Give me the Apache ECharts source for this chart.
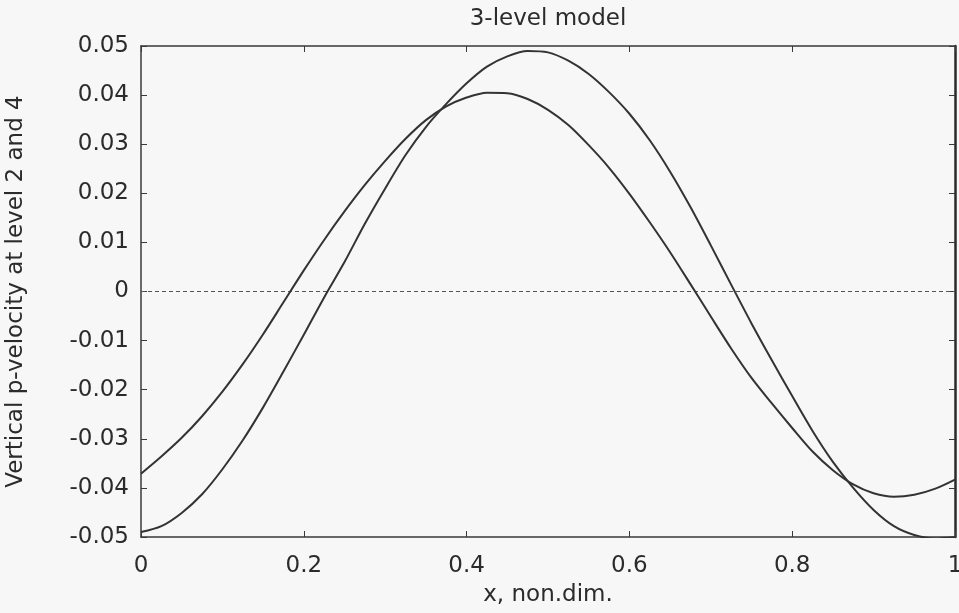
<!DOCTYPE html>
<html>
<head>
<meta charset="utf-8">
<title>3-level model</title>
<script src="https://cdn.jsdelivr.net/npm/echarts@6/dist/echarts.min.js"></script>
<style>
  html, body { margin: 0; padding: 0; background: #f7f7f7; }
  #chart { width: 959px; height: 613px; }
</style>
</head>
<body>
<div id="chart"></div>
<script>
// Horizontal coordinate (non-dimensional) of the sampled profiles
const xValues = [0, 0.025, 0.05, 0.075, 0.10, 0.125, 0.15, 0.175, 0.20, 0.225,
                 0.25, 0.275, 0.30, 0.325, 0.35, 0.375, 0.40, 0.425, 0.45, 0.475,
                 0.50, 0.525, 0.55, 0.575, 0.60, 0.625, 0.65, 0.675, 0.70, 0.725,
                 0.75, 0.775, 0.80, 0.825, 0.85, 0.875, 0.90, 0.925, 0.95, 0.975, 1.00];

// Vertical p-velocity, larger-amplitude profile
const velocityA = [-0.0490, -0.0478, -0.0451, -0.0413, -0.0362, -0.0303, -0.0236, -0.0163, -0.0088, -0.0012,
                   0.0060, 0.0138, 0.0210, 0.0278, 0.0335, 0.0382, 0.0424, 0.0458, 0.0479, 0.0490,
                   0.0487, 0.0470, 0.0443, 0.0406, 0.0362, 0.0308, 0.0244, 0.0172, 0.0094, 0.0014,
                   -0.0065, -0.0140, -0.0213, -0.0284, -0.0347, -0.0400, -0.0445, -0.0478, -0.0496, -0.0503, -0.0500];

// Vertical p-velocity, smaller-amplitude profile
const velocityB = [-0.0371, -0.0336, -0.0298, -0.0254, -0.0204, -0.0148, -0.0087, -0.0022, 0.0043, 0.0105,
                   0.0163, 0.0217, 0.0266, 0.0311, 0.0349, 0.0377, 0.0395, 0.0405, 0.0404, 0.0392,
                   0.0370, 0.0339, 0.0298, 0.0252, 0.0199, 0.0141, 0.0080, 0.0015, -0.0051, -0.0116,
                   -0.0176, -0.0228, -0.0278, -0.0326, -0.0364, -0.0393, -0.0411, -0.0418, -0.0414, -0.0402, -0.0383];

// Zero reference line end points
const zeroLineX = [0, 1];
const zeroLineY = [0, 0];

const pairs = (xs, ys) => xs.map((x, i) => [x, ys[i]]);

const FONT = 'DejaVu Sans';
const TEXT = '#2b2b2b';
const INK = '#333333';
const FRAME = '#3a3a3a';

const chart = echarts.init(document.getElementById('chart'), null, { renderer: 'canvas' });

const frameAxis = (extra) => Object.assign({
  type: 'value',
  axisLine: { show: true, onZero: false, lineStyle: { color: FRAME, width: 1.5 } },
  axisTick: { show: true, inside: true, length: 6, lineStyle: { color: FRAME, width: 1 } },
  splitLine: { show: false }
}, extra);

chart.setOption({
  backgroundColor: '#f7f7f7',
  animation: false,
  title: {
    text: '3-level model',
    left: 548,
    textAlign: 'center',
    top: 8,
    padding: 0,
    textStyle: { fontFamily: FONT, fontSize: 23, fontWeight: 'normal', color: TEXT }
  },
  grid: { left: 141, right: 4, top: 46, bottom: 76, containLabel: false, outerBoundsMode: 'none' },
  xAxis: [
    frameAxis({
      min: 0, max: 1, interval: 0.2, position: 'bottom',
      name: 'x, non.dim.', nameLocation: 'middle', nameGap: 47,
      nameTextStyle: { fontFamily: FONT, fontSize: 23, color: TEXT },
      axisLabel: { fontFamily: FONT, fontSize: 23, color: TEXT, margin: 18 }
    }),
    frameAxis({
      min: 0, max: 1, interval: 0.2, position: 'top',
      axisLabel: { show: false }
    })
  ],
  yAxis: [
    frameAxis({
      min: -0.05, max: 0.05, interval: 0.01, position: 'left',
      name: 'Vertical p-velocity at level 2 and 4', nameLocation: 'middle', nameGap: 113,
      nameTextStyle: { fontFamily: FONT, fontSize: 23, color: TEXT },
      axisLabel: { fontFamily: FONT, fontSize: 23, color: TEXT, margin: 12 }
    }),
    frameAxis({
      min: -0.05, max: 0.05, interval: 0.01, position: 'right',
      axisLine: { show: true, onZero: false, lineStyle: { color: '#2a2a2a', width: 2.5 } },
      axisLabel: { show: false }
    })
  ],
  series: [
    {
      name: 'zero', type: 'line', xAxisIndex: 0, yAxisIndex: 0,
      data: pairs(zeroLineX, zeroLineY),
      showSymbol: false, silent: true,
      lineStyle: { color: '#555555', width: 1, type: [4, 3] }
    },
    {
      name: 'level A', type: 'line', xAxisIndex: 0, yAxisIndex: 0,
      data: pairs(xValues, velocityA),
      smooth: 0.3, showSymbol: false,
      lineStyle: { color: INK, width: 2 }
    },
    {
      name: 'level B', type: 'line', xAxisIndex: 0, yAxisIndex: 0,
      data: pairs(xValues, velocityB),
      smooth: 0.3, showSymbol: false,
      lineStyle: { color: INK, width: 2 }
    }
  ]
});
</script>
</body>
</html>
